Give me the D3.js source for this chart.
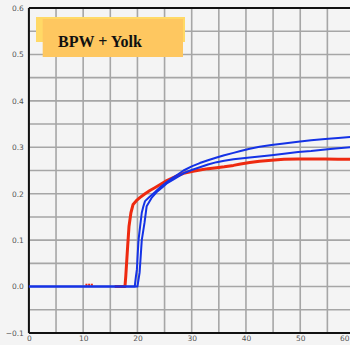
<!DOCTYPE html>
<html>
<head>
<meta charset="utf-8">
<script src="https://cdn.jsdelivr.net/npm/d3@7"></script>
<style>
  html, body { margin: 0; padding: 0; background: #f4f4f4; }
  svg { display: block; }
  .tick-label { font-family: "DejaVu Sans", sans-serif; font-size: 7.5px; fill: #555; }
</style>
</head>
<body>
<svg id="chart" width="350" height="345"></svg>
<script>
// Time (x) and response (y) for each curve
const redX = [15.8, 17.7, 17.85, 18.0, 18.2, 18.45, 18.8, 19.2, 19.8, 20.5, 21.4, 22.3, 23.2, 24.2, 25.2, 26.3, 27.4, 28.5, 30, 31.5, 33, 34.6, 36, 37.7, 39, 40.7, 42.5, 44.7, 47, 49.6, 52, 54.6, 57, 60];
const redY = [0, 0, 0.022, 0.05, 0.087, 0.13, 0.159, 0.177, 0.185, 0.192, 0.2, 0.207, 0.213, 0.22, 0.227, 0.233, 0.239, 0.244, 0.248, 0.251, 0.254, 0.256, 0.258, 0.261, 0.264, 0.267, 0.27, 0.272, 0.274, 0.275, 0.275, 0.275, 0.274, 0.274];

const blueAX = [0, 19.5, 19.7, 19.9, 20.05, 20.2, 20.5, 20.8, 21.1, 21.4, 22.2, 23.2, 24.2, 25.3, 26.5, 27.5, 28.5, 30, 31.5, 33, 34.6, 36, 37.7, 39, 40.7, 42.5, 44.7, 47, 49.6, 52, 54.6, 57, 60];
const blueAY = [0, 0, 0.02, 0.037, 0.07, 0.1, 0.13, 0.159, 0.173, 0.184, 0.193, 0.203, 0.214, 0.224, 0.234, 0.242, 0.25, 0.259, 0.266, 0.272, 0.278, 0.283, 0.288, 0.292, 0.297, 0.301, 0.305, 0.308, 0.312, 0.315, 0.318, 0.32, 0.323];

const blueBX = [0, 20.0, 20.4, 20.8, 21.3, 21.7, 22.6, 23.5, 24.5, 25.4, 26.5, 27.5, 28.5, 30, 31.5, 33, 34.6, 36, 37.7, 39, 40.7, 42.5, 44.7, 47, 49.6, 52, 54.6, 57, 60];
const blueBY = [0, 0, 0.03, 0.1, 0.137, 0.173, 0.191, 0.203, 0.213, 0.222, 0.23, 0.237, 0.244, 0.251, 0.257, 0.263, 0.268, 0.271, 0.274, 0.276, 0.278, 0.28, 0.283, 0.286, 0.29, 0.292, 0.295, 0.298, 0.301];

// Isolated early red readings just above zero
const redDotsX = [10.6, 11.1, 11.6];
const redDotsY = [0.004, 0.004, 0.004];

const xTickLabels = [0, 10, 20, 30, 40, 50, 60];
const yTickLabels = [-0.1, 0.0, 0.1, 0.2, 0.3, 0.4, 0.5, 0.6];
const xGrid = d3.range(0, 61, 5);
const yGrid = d3.range(-0.1, 0.6001, 0.05);

const title = "BPW + Yolk";

const W = 350;
const svg = d3.select("#chart");
const x = d3.scaleLinear().domain([0, 60]).range([28.9, 354.5]);
const y = d3.scaleLinear().domain([-0.1, 0.6]).range([333, 8]);

svg.append("rect").attr("width", 350).attr("height", 345).attr("fill", "#f4f4f4");

// grid
const grid = svg.append("g").attr("stroke", "#a6a6a6").attr("stroke-width", 1.6);
grid.selectAll("line.v").data(xGrid).join("line")
  .attr("x1", d => x(d)).attr("x2", d => x(d))
  .attr("y1", y(0.6)).attr("y2", y(-0.1));
grid.selectAll("line.h").data(yGrid).join("line")
  .attr("x1", x(0)).attr("x2", x(60))
  .attr("y1", d => y(d)).attr("y2", d => y(d));

// frame
svg.append("line").attr("x1", x(0)).attr("x2", x(60)).attr("y1", y(0.6)).attr("y2", y(0.6))
  .attr("stroke", "#111").attr("stroke-width", 2);
svg.append("line").attr("x1", x(0)).attr("x2", x(60)).attr("y1", y(-0.1)).attr("y2", y(-0.1))
  .attr("stroke", "#111").attr("stroke-width", 2);
svg.append("line").attr("x1", x(0)).attr("x2", x(0)).attr("y1", y(0.6)).attr("y2", y(-0.1))
  .attr("stroke", "#111").attr("stroke-width", 2);

// tick labels
const yAxis = d3.axisLeft(y).tickValues(yTickLabels).tickSize(0).tickPadding(5)
  .tickFormat(d => d3.format(".1f")(d));
const gy = svg.append("g").attr("transform", `translate(${x(0)},0)`).call(yAxis);
gy.select(".domain").remove();
gy.selectAll("text").attr("class", "tick-label").attr("font-size", null).attr("font-family", null).attr("fill", null);

const xAxis = d3.axisBottom(x).tickValues(xTickLabels).tickSize(0).tickPadding(3)
  .tickFormat(d3.format("d"));
const gx = svg.append("g").attr("transform", `translate(0,${y(-0.1)})`).call(xAxis);
gx.select(".domain").remove();
gx.selectAll("text").attr("class", "tick-label").attr("font-size", null).attr("font-family", null).attr("fill", null);
// keep the last label inside the window edge
gx.selectAll(".tick").filter(d => x(d) > W - 6).select("text")
  .attr("text-anchor", "end").attr("dx", d => (W - 1) - x(d));

// curves
const line = d3.line().x(d => x(d[0])).y(d => y(d[1])).curve(d3.curveLinear);
const zip = (a, b) => a.map((v, i) => [v, b[i]]);

svg.append("path").datum(zip(redX, redY)).attr("d", line)
  .attr("fill", "none").attr("stroke", "#ee2a10").attr("stroke-width", 3)
  .attr("stroke-linejoin", "round");
svg.selectAll("rect.reddot").data(zip(redDotsX, redDotsY)).join("rect")
  .attr("class", "reddot")
  .attr("x", d => x(d[0]) - 1).attr("y", d => y(d[1]) - 1)
  .attr("width", 2).attr("height", 2).attr("fill", "#ee2a10");
svg.append("path").datum(zip(blueBX, blueBY)).attr("d", line)
  .attr("fill", "none").attr("stroke", "#1432e6").attr("stroke-width", 2)
  .attr("stroke-linejoin", "round");
svg.append("path").datum(zip(blueAX, blueAY)).attr("d", line)
  .attr("fill", "none").attr("stroke", "#1432e6").attr("stroke-width", 2)
  .attr("stroke-linejoin", "round");

// title box
svg.append("rect").attr("x", 36).attr("y", 17).attr("width", 149).attr("height", 25).attr("fill", "#ffd966");
svg.append("rect").attr("x", 42.7).attr("y", 19).attr("width", 140.3).attr("height", 38).attr("fill", "#fec760");
svg.append("text").attr("x", 58).attr("y", 47)
  .attr("font-family", "'Liberation Serif', 'Times New Roman', serif")
  .attr("font-weight", "bold").attr("font-size", 16).attr("fill", "#111")
  .text(title);
</script>
</body>
</html>
